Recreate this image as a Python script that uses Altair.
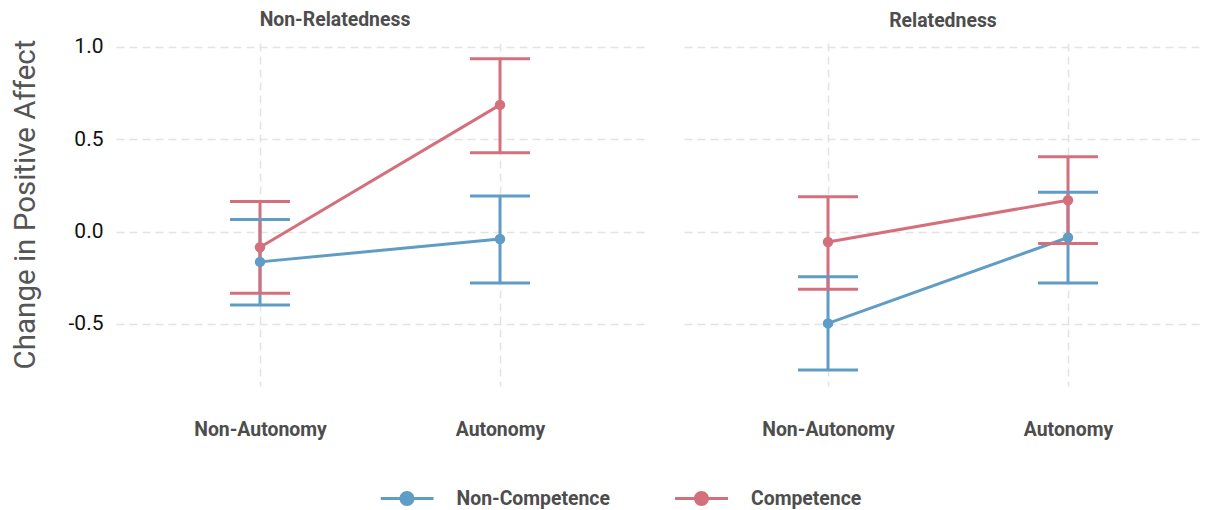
import altair as alt
import pandas as pd

panels = ["Non-Relatedness", "Relatedness"]
autonomy = ["Non-Autonomy", "Autonomy"]
groups = ["Non-Competence", "Competence"]
colors = ["#5f9dc6", "#d4707c"]

# each list ordered [Non-Autonomy, Autonomy]
nr_noncomp_mean = [-0.164, -0.040]
nr_noncomp_lo = [-0.397, -0.278]
nr_noncomp_hi = [0.065, 0.193]
nr_comp_mean = [-0.085, 0.686]
nr_comp_lo = [-0.334, 0.427]
nr_comp_hi = [0.163, 0.936]
r_noncomp_mean = [-0.497, -0.032]
r_noncomp_lo = [-0.750, -0.278]
r_noncomp_hi = [-0.244, 0.213]
r_comp_mean = [-0.056, 0.170]
r_comp_lo = [-0.312, -0.065]
r_comp_hi = [0.188, 0.405]

y_ticks = [-0.5, 0.0, 0.5, 1.0]
y_domain = [-0.836, 1.021]

series = [
    (panels[0], groups[0], nr_noncomp_mean, nr_noncomp_lo, nr_noncomp_hi),
    (panels[0], groups[1], nr_comp_mean, nr_comp_lo, nr_comp_hi),
    (panels[1], groups[0], r_noncomp_mean, r_noncomp_lo, r_noncomp_hi),
    (panels[1], groups[1], r_comp_mean, r_comp_lo, r_comp_hi),
]
rows = []
for p, g, m, lo, hi in series:
    for i, a in enumerate(autonomy):
        rows.append({"panel": p, "autonomy": a, "group": g,
                     "mean": m[i], "lo": lo[i], "hi": hi[i]})
df = pd.DataFrame(rows)

FONT = "Roboto"
BOLD_SIZE = 19.4
SYM = ("M-1,-0.057L-0.26,-0.057L-0.26,0.057L-1,0.057Z "
       "M0.26,-0.057L1,-0.057L1,0.057L0.26,0.057Z "
       "M0.283,0A0.283,0.283 0 1,1 -0.283,0A0.283,0.283 0 1,1 0.283,0Z")

# helper scales for non-legend channels (reversed order so they stay separate from the legend)
rev_groups = groups[::-1]
rev_colors = colors[::-1]


def yscale():
    return alt.Scale(domain=y_domain, nice=False, zero=False)


def panel(pname, first, dx, toff, width, pad, align):
    base = alt.Chart(df).transform_filter(alt.datum.panel == pname)
    x = alt.X("autonomy:N", sort=autonomy,
              scale=alt.Scale(type="point", padding=pad, align=align),
              axis=alt.Axis(title=None, labelAngle=0, labelFont=FONT,
                            labelFontSize=BOLD_SIZE, labelFontWeight="bold",
                            labelColor="#4d4d4d", labelPadding=34,
                            ticks=False, domain=False, grid=True))
    if first:
        yaxis = alt.Axis(title="Change in Positive Affect", values=y_ticks,
                         labelExpr="datum.value < 0 ? '-' + format(-datum.value, '.1f') : format(datum.value, '.1f')",
                         labelFont=FONT, labelFontSize=21, labelColor="#111111",
                         labelPadding=13, ticks=False, domain=False, grid=True,
                         titleFont=FONT, titleFontSize=29.5, titleFontWeight="normal",
                         titleColor="#555555", titleX=-91, titleY=161,
                         titleAngle=270, titleAlign="center", titleBaseline="middle")
    else:
        yaxis = alt.Axis(title=None, values=y_ticks, labels=False, ticks=False,
                         domain=False, grid=True)
    y = alt.Y("mean:Q", scale=yscale(), axis=yaxis)
    ylo = alt.Y("lo:Q", scale=yscale(), axis=yaxis)
    yhi = alt.Y("hi:Q", scale=yscale(), axis=yaxis)
    stroke_enc = alt.Stroke("group:N", scale=alt.Scale(domain=rev_groups, range=rev_colors), legend=None)
    fill_enc = alt.Fill("group:N", scale=alt.Scale(domain=rev_groups, range=rev_colors), legend=None)

    lines = base.mark_line(strokeWidth=3).encode(x=x, y=y, stroke=stroke_enc, detail="group:N")
    rules = base.mark_rule(strokeWidth=3).encode(x=x, y=ylo, y2="hi:Q", stroke=stroke_enc)
    cap_lo = base.mark_tick(size=60, thickness=3, orient="horizontal", opacity=1).encode(
        x=x, y=ylo, fill=fill_enc)
    cap_hi = base.mark_tick(size=60, thickness=3, orient="horizontal", opacity=1).encode(
        x=x, y=yhi, fill=fill_enc)
    leg = alt.Legend(title=None, orient="none", direction="horizontal",
                     legendX=264.5, legendY=445.5, symbolType=SYM, symbolSize=2809,
                     symbolStrokeWidth=0, labelFont=FONT, labelFontSize=BOLD_SIZE,
                     labelFontWeight="bold", labelColor="#4d4d4d",
                     labelOffset=23, columnPadding=64.5, padding=0, clipHeight=20)
    pc = alt.Color("group:N", scale=alt.Scale(domain=groups, range=colors), legend=leg)
    points = base.mark_point(filled=True, size=110, opacity=1).encode(x=x, y=y, color=pc)
    return alt.layer(lines, rules, cap_lo, cap_hi, points).properties(
        width=width, height=343,
        title=alt.TitleParams(text=pname, dx=dx, anchor="middle", font=FONT,
                              fontSize=BOLD_SIZE, fontWeight="bold", color="#4d4d4d",
                              offset=toff))


chart = alt.hconcat(
    panel(panels[0], True, -45, 5, 528, 0.6, 0.5),
    panel(panels[1], False, 0, 12, 518, 0.5792, 0.518),
    spacing=40,
).resolve_scale(color="shared", x="independent").properties(
    padding={"left": 2, "top": 2, "right": 0, "bottom": 0}
).configure(background="white").configure_view(
    stroke=None
).configure_axis(
    gridColor="#e3e3e3", gridDash=[8, 5], gridWidth=1.5
)

chart.save("out.html", embed_options={"renderer": "svg", "actions": False})
